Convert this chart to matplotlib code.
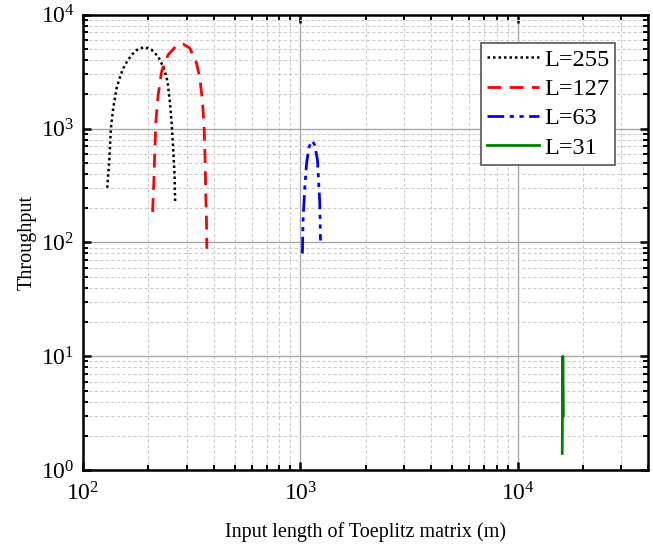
import matplotlib
matplotlib.use("Agg")
import matplotlib.pyplot as plt

plt.rcParams['font.family'] = ['Liberation Serif', 'DejaVu Serif']
plt.rcParams['mathtext.fontset'] = 'stix'

# values
labels = ['L=255', 'L=127', 'L=63', 'L=31']

x255 = [129.4, 132.1, 134.5, 137.8, 142.9, 149.1, 156.0, 167.5, 179.6, 192.8,
        207.0, 221.9, 235.7, 245.1, 251.2, 255.7, 260.1, 264.0, 265.7]
y255 = [302, 511, 1006, 1510, 2262, 2963, 3630, 4446, 5020, 5197,
        4920, 4295, 3394, 2587, 1725, 1150, 671, 391, 220]

x127 = [209.2, 212.0, 214.3, 216.6, 221.9, 230.1, 246.6, 269.7, 289.1, 310.5,
        333.3, 345.1, 355.0, 361.2, 365.0, 367.7, 370.4, 371.6]
y127 = [185, 341, 671, 1150, 1977, 3170, 4446, 5370, 5520, 5090,
        3758, 2773, 1725, 1006, 511, 260, 151, 88]

x63 = [1023, 1030, 1050, 1069, 1099, 1133, 1166, 1200, 1230, 1239]
y63 = [80, 157, 308, 495, 693, 783, 718, 530, 220, 104]

x31 = [16050, 16100, 16150, 16200, 16250]
y31 = [1.4, 4.5, 10, 6, 3]

fig = plt.figure(figsize=(6.53, 5.46), dpi=100)
ax = fig.add_axes([0.127, 0.139, 0.866, 0.834])

ax.plot(x255, y255, color='black', linestyle=(0, (1, 1.2)), lw=1.8, label=labels[0])
ax.plot(x127, y127, color='red', linestyle=(0, (5, 3)), lw=2, label=labels[1])
ax.plot(x63, y63, color='blue', linestyle=(0, (6, 2, 1.5, 2, 1.5, 2)), lw=2, label=labels[2])
ax.plot(x31, y31, color='green', linestyle='-', lw=2, label=labels[3])

ax.set_xscale('log')
ax.set_yscale('log')
ax.set_xlim(100, 40000)
ax.set_ylim(1, 10000)

ax.grid(True, which='major', color='#a8a8a8', linestyle='-', lw=1)
ax.grid(True, which='minor', color='#cccccc', linestyle=(0, (3, 2)), lw=0.8)
ax.set_axisbelow(True)

ax.tick_params(which='both', direction='in', top=True, right=True, labelsize=17)
ax.tick_params(axis='y', which='major', pad=6)
ax.tick_params(axis='x', which='major', pad=9)
ax.tick_params(which='major', length=6, width=1.8)
ax.tick_params(which='minor', length=3.5, width=1.4)
for s in ax.spines.values():
    s.set_linewidth(1.8)

ax.set_xlabel('Input length of Toeplitz matrix (m)', fontsize=14.5, labelpad=12)
ax.set_ylabel('Throughput', fontsize=14.5, labelpad=3)

leg = ax.legend(loc='upper right', bbox_to_anchor=(0.9416, 0.9385), fontsize=17.5,
                fancybox=False, edgecolor='#555555', framealpha=1,
                handlelength=2.15, handletextpad=0.2, borderpad=0.25,
                labelspacing=0.3, borderaxespad=0)
leg.get_frame().set_linewidth(1.2)

fig.savefig('out.png', dpi=100)
